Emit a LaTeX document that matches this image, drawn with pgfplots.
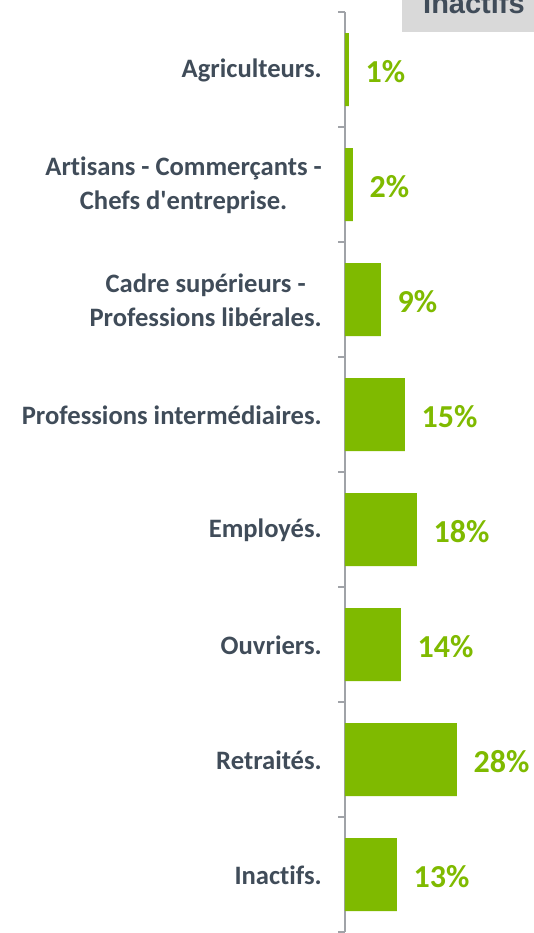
\documentclass[border=0pt]{standalone}
\usepackage{fontspec}
\setmainfont{Carlito}[Ligatures={NoCommon,TeXOff}]
\newfontfamily\arialfont{Liberation Sans}
\usepackage{pgfplots}
\pgfplotsset{compat=1.18}
\definecolor{barg}{RGB}{127,186,0}
\definecolor{txt}{RGB}{64,76,89}
\definecolor{axg}{RGB}{160,163,168}
\definecolor{boxg}{RGB}{217,217,217}
\begin{document}
\begin{tikzpicture}
\begin{axis}[
  name=ax,
  scale only axis,
  width=188pt, height=920pt,
  xmin=0, xmax=47,
  ymin=-0.5, ymax=7.5,
  y dir=reverse,
  axis y line*=left,
  axis x line=none,
  xbar, bar width=73pt,
  xtick=\empty,
  ytick={0,...,7},
  yticklabels={Agriculteurs.,{Artisans - Commerçants -\\Chefs d'entreprise.},{Cadre supérieurs -\\Professions libérales.},Professions intermédiaires.,Employés.,Ouvriers.,Retraités.,Inactifs.},
  minor ytick={-0.5,0.5,...,7.5},
  major tick length=0pt,
  minor tick length=7pt,
  tick align=outside,
  y axis line style={draw=axg, line width=1.6pt},
  every minor tick/.style={draw=axg, line width=1.6pt},
  yticklabel style={font=\fontsize{26.6}{34}\selectfont\bfseries, text=txt, align=center, inner sep=0pt, xshift=-23pt, yshift=-1pt},
  nodes near coords={\pgfmathprintnumber[assume math mode=true]{\pgfplotspointmeta}\%},
  point meta=x,
  every node near coord/.append style={anchor=west, inner sep=0pt, xshift=16.5pt, yshift=-2pt, font=\fontsize{32}{36}\selectfont\bfseries, text=barg},
  clip=false,
]
\addplot[fill=barg, draw=none] coordinates {(1,0) (2,1) (9,2) (15,3) (18,4) (14,5) (28,6) (13,7)};
\end{axis}
\node[fill=boxg, anchor=south west, minimum width=160pt, minimum height=60pt, inner sep=0pt] (bx) at ([xshift=57pt,yshift=-20pt]ax.north west) {};
\node[anchor=base west, inner sep=0pt, text=txt, font=\arialfont\fontsize{29}{32}\selectfont\bfseries] at ([xshift=78pt,yshift=-2pt]ax.north west) {Inactifs};
\pgfresetboundingbox
\useasboundingbox ([xshift=-345pt,yshift=12pt]ax.north west) rectangle ([yshift=-1pt]ax.south east);
\end{tikzpicture}
\end{document}
